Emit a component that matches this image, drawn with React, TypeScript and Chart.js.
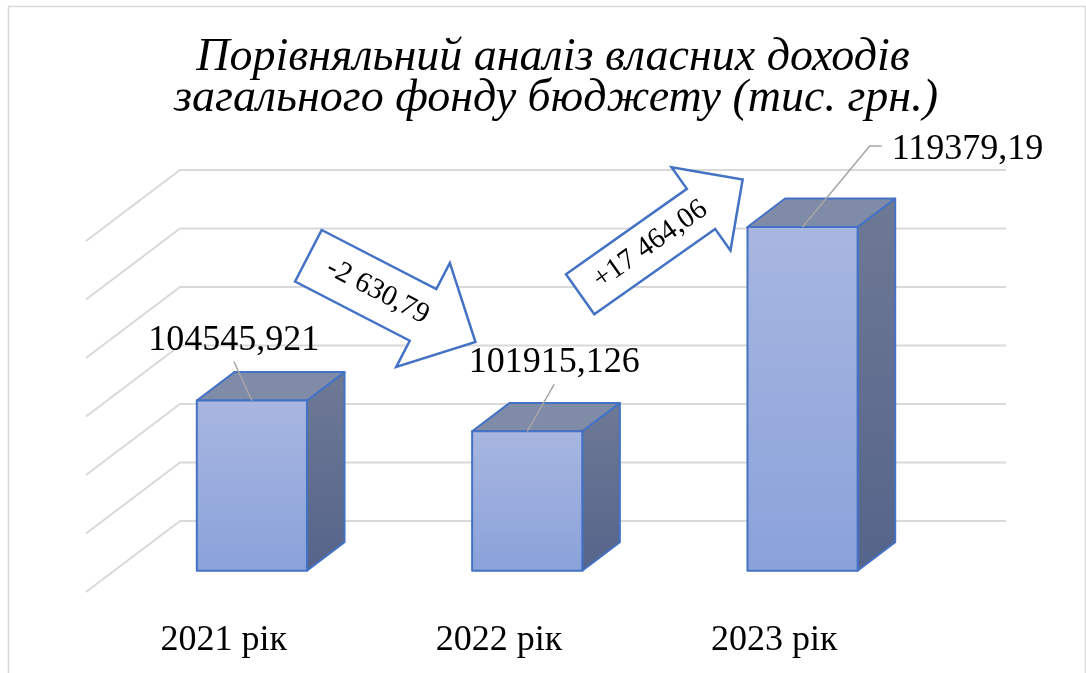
import { useEffect, useRef } from 'react';
import { Chart, registerables } from 'chart.js';

Chart.register(...registerables);

// ---------- data ----------
const CATEGORIES = ['2021 рік', '2022 рік', '2023 рік'];
const VALUES = [104545.921, 101915.126, 119379.19];
const VALUE_LABELS = ['104545,921', '101915,126', '119379,19'];
const Y_TICKS = [90000, 95000, 100000, 105000, 110000, 115000, 120000];
const CHANGE_LABELS = ['-2 630,79', '+17 464,06'];
const TITLE_LINES = ['Порівняльний аналіз власних доходів', 'загального фонду бюджету (тис. грн.)'];

// ---------- layout / style ----------
const W = 1086;
const H = 673;
const DEPTH_DX = 94; // full depth of the 3D floor, horizontal shift (to the left)
const DEPTH_DY = 71; // full depth of the 3D floor, vertical shift (down)
const BAR_FRONT_T = 0.7;
const BAR_BACK_T = 0.3;
const SERIF = "'Liberation Serif', 'Times New Roman', serif";
const EDGE = '#4472c4';
const GRID = '#d9d9d9';

// label placement relative to the bar's front-top centre: [dx, dy(baseline), elbow]
const LABEL_PLACEMENT: [number, number, boolean][] = [
  [-18, -51, false],
  [27, -59, false],
  [165, -68, true],
];

// change arrows (annotation shapes)
const ARROWS = [
  { x: 321.7, y: 230, angle: 27.3, bodyLen: 129, bodyW: 58, headLen: 59, headHalf: 58.5, textU: 78, font: 29 },
  { x: 566, y: 274.3, angle: -35.25, bodyLen: 148, bodyW: 49, headLen: 51, headHalf: 51, textU: 86, font: 29 },
];

const bar3dPlugin = {
  id: 'bar3d',
  beforeDatasetsDraw(chart: any) {
    const ctx: CanvasRenderingContext2D = chart.ctx;
    const y = chart.scales.y;
    const area = chart.chartArea;
    ctx.save();
    // outer frame
    ctx.strokeStyle = GRID;
    ctx.lineWidth = 1.5;
    ctx.strokeRect(8.5, 6.5, 1077, 700);
    // gridlines: back wall + left wall diagonals
    ctx.strokeStyle = GRID;
    ctx.lineWidth = 2;
    for (const t of Y_TICKS) {
      const py = y.getPixelForValue(t);
      ctx.beginPath();
      ctx.moveTo(area.left - DEPTH_DX, py + DEPTH_DY);
      ctx.lineTo(area.left, py);
      ctx.lineTo(area.right, py);
      ctx.stroke();
    }
    ctx.restore();
  },
  afterDatasetsDraw(chart: any) {
    const ctx: CanvasRenderingContext2D = chart.ctx;
    const meta = chart.getDatasetMeta(0);
    const xs = chart.scales.x;
    const ys = chart.scales.y;
    const area = chart.chartArea;
    ctx.save();
    const fx = -DEPTH_DX * BAR_FRONT_T;
    const fy = DEPTH_DY * BAR_FRONT_T;
    const bx = -DEPTH_DX * BAR_BACK_T;
    const by = DEPTH_DY * BAR_BACK_T;
    const base = ys.getPixelForValue(Y_TICKS[0]);
    const tops: { cx: number; ty: number }[] = [];
    meta.data.forEach((el: any) => {
      const L = el.x - el.width / 2;
      const R = el.x + el.width / 2;
      const top = el.y;
      // side face
      const sg = ctx.createLinearGradient(0, top + by, 0, base + fy);
      sg.addColorStop(0, '#6e7995');
      sg.addColorStop(1, '#55648a');
      ctx.beginPath();
      ctx.moveTo(R + fx, top + fy);
      ctx.lineTo(R + bx, top + by);
      ctx.lineTo(R + bx, base + by);
      ctx.lineTo(R + fx, base + fy);
      ctx.closePath();
      ctx.fillStyle = sg;
      ctx.fill();
      ctx.strokeStyle = EDGE;
      ctx.lineWidth = 2;
      ctx.lineJoin = 'round';
      ctx.stroke();
      // top face
      ctx.beginPath();
      ctx.moveTo(L + fx, top + fy);
      ctx.lineTo(L + bx, top + by);
      ctx.lineTo(R + bx, top + by);
      ctx.lineTo(R + fx, top + fy);
      ctx.closePath();
      ctx.fillStyle = '#808ba8';
      ctx.fill();
      ctx.stroke();
      // front face
      const fg = ctx.createLinearGradient(0, top + fy, 0, base + fy);
      fg.addColorStop(0, '#a8b6e0');
      fg.addColorStop(1, '#8aa2da');
      ctx.fillStyle = fg;
      ctx.fillRect(L + fx, top + fy, R - L, base - top);
      ctx.strokeRect(L + fx, top + fy, R - L, base - top);
      tops.push({ cx: el.x + fx, ty: top + fy });
    });

    // data labels with leader lines
    ctx.font = `36px ${SERIF}`;
    ctx.textBaseline = 'alphabetic';
    tops.forEach((p, i) => {
      const [dx, dy, elbow] = LABEL_PLACEMENT[i];
      const lx = p.cx + dx;
      const ly = p.ty + dy;
      const tw = ctx.measureText(VALUE_LABELS[i]).width;
      ctx.strokeStyle = '#a6a6a6';
      ctx.lineWidth = 1.5;
      ctx.beginPath();
      if (elbow) {
        const left = lx - tw / 2;
        ctx.moveTo(p.cx, p.ty);
        ctx.lineTo(left - 22, ly - 13);
        ctx.lineTo(left - 10, ly - 13);
      } else {
        ctx.moveTo(lx, ly + 12);
        ctx.lineTo(p.cx, p.ty);
      }
      ctx.stroke();
      ctx.fillStyle = '#000';
      ctx.textAlign = 'center';
      ctx.fillText(VALUE_LABELS[i], lx, ly);
    });

    // category labels on the front edge of the floor
    ctx.font = `36px ${SERIF}`;
    ctx.fillStyle = '#000';
    ctx.textAlign = 'center';
    CATEGORIES.forEach((c, i) => {
      const px = xs.getPixelForValue(i) - DEPTH_DX;
      ctx.fillText(c, px, area.bottom + 129);
    });

    // change arrows
    ARROWS.forEach((a, i) => {
      ctx.save();
      ctx.translate(a.x, a.y);
      ctx.rotate((a.angle * Math.PI) / 180);
      const c = a.bodyW / 2;
      ctx.beginPath();
      ctx.moveTo(0, 0);
      ctx.lineTo(a.bodyLen, 0);
      ctx.lineTo(a.bodyLen, c - a.headHalf);
      ctx.lineTo(a.bodyLen + a.headLen, c);
      ctx.lineTo(a.bodyLen, c + a.headHalf);
      ctx.lineTo(a.bodyLen, a.bodyW);
      ctx.lineTo(0, a.bodyW);
      ctx.closePath();
      ctx.fillStyle = '#fff';
      ctx.fill();
      ctx.strokeStyle = EDGE;
      ctx.lineWidth = 2.5;
      ctx.lineJoin = 'miter';
      ctx.stroke();
      ctx.fillStyle = '#000';
      ctx.font = `${a.font}px ${SERIF}`;
      ctx.textAlign = 'center';
      ctx.textBaseline = 'middle';
      ctx.fillText(CHANGE_LABELS[i], a.textU, c);
      ctx.restore();
    });

    // title
    ctx.font = `italic 46px ${SERIF}`;
    ctx.fillStyle = '#000';
    ctx.textAlign = 'center';
    ctx.textBaseline = 'alphabetic';
    ctx.fillText(TITLE_LINES[0], 553, 70);
    ctx.fillText(TITLE_LINES[1], 556, 111);
    ctx.restore();
  },
};

export default function App() {
  const ref = useRef<HTMLCanvasElement>(null);
  useEffect(() => {
    if (!ref.current) return;
    const chart = new Chart(ref.current, {
      type: 'bar',
      data: {
        labels: CATEGORIES,
        datasets: [
          {
            data: VALUES,
            base: Y_TICKS[0],
            backgroundColor: 'rgba(0,0,0,0)',
            borderWidth: 0,
            barPercentage: 0.4,
            categoryPercentage: 1,
          },
        ],
      },
      options: {
        responsive: false,
        animation: false,
        events: [],
        layout: { padding: { left: 180, right: 80, top: 170, bottom: 152 } },
        scales: {
          x: { display: false },
          y: { display: false, min: Y_TICKS[0], max: Y_TICKS[Y_TICKS.length - 1] },
        },
        plugins: { legend: { display: false }, tooltip: { enabled: false }, title: { display: false } },
      },
      plugins: [bar3dPlugin],
    });
    return () => chart.destroy();
  }, []);
  return (
    <div style={{ position: 'fixed', left: 0, top: 0, width: W, height: H, background: '#fff' }}>
      <canvas ref={ref} width={W} height={H} style={{ display: 'block', width: W, height: H }} />
    </div>
  );
}
